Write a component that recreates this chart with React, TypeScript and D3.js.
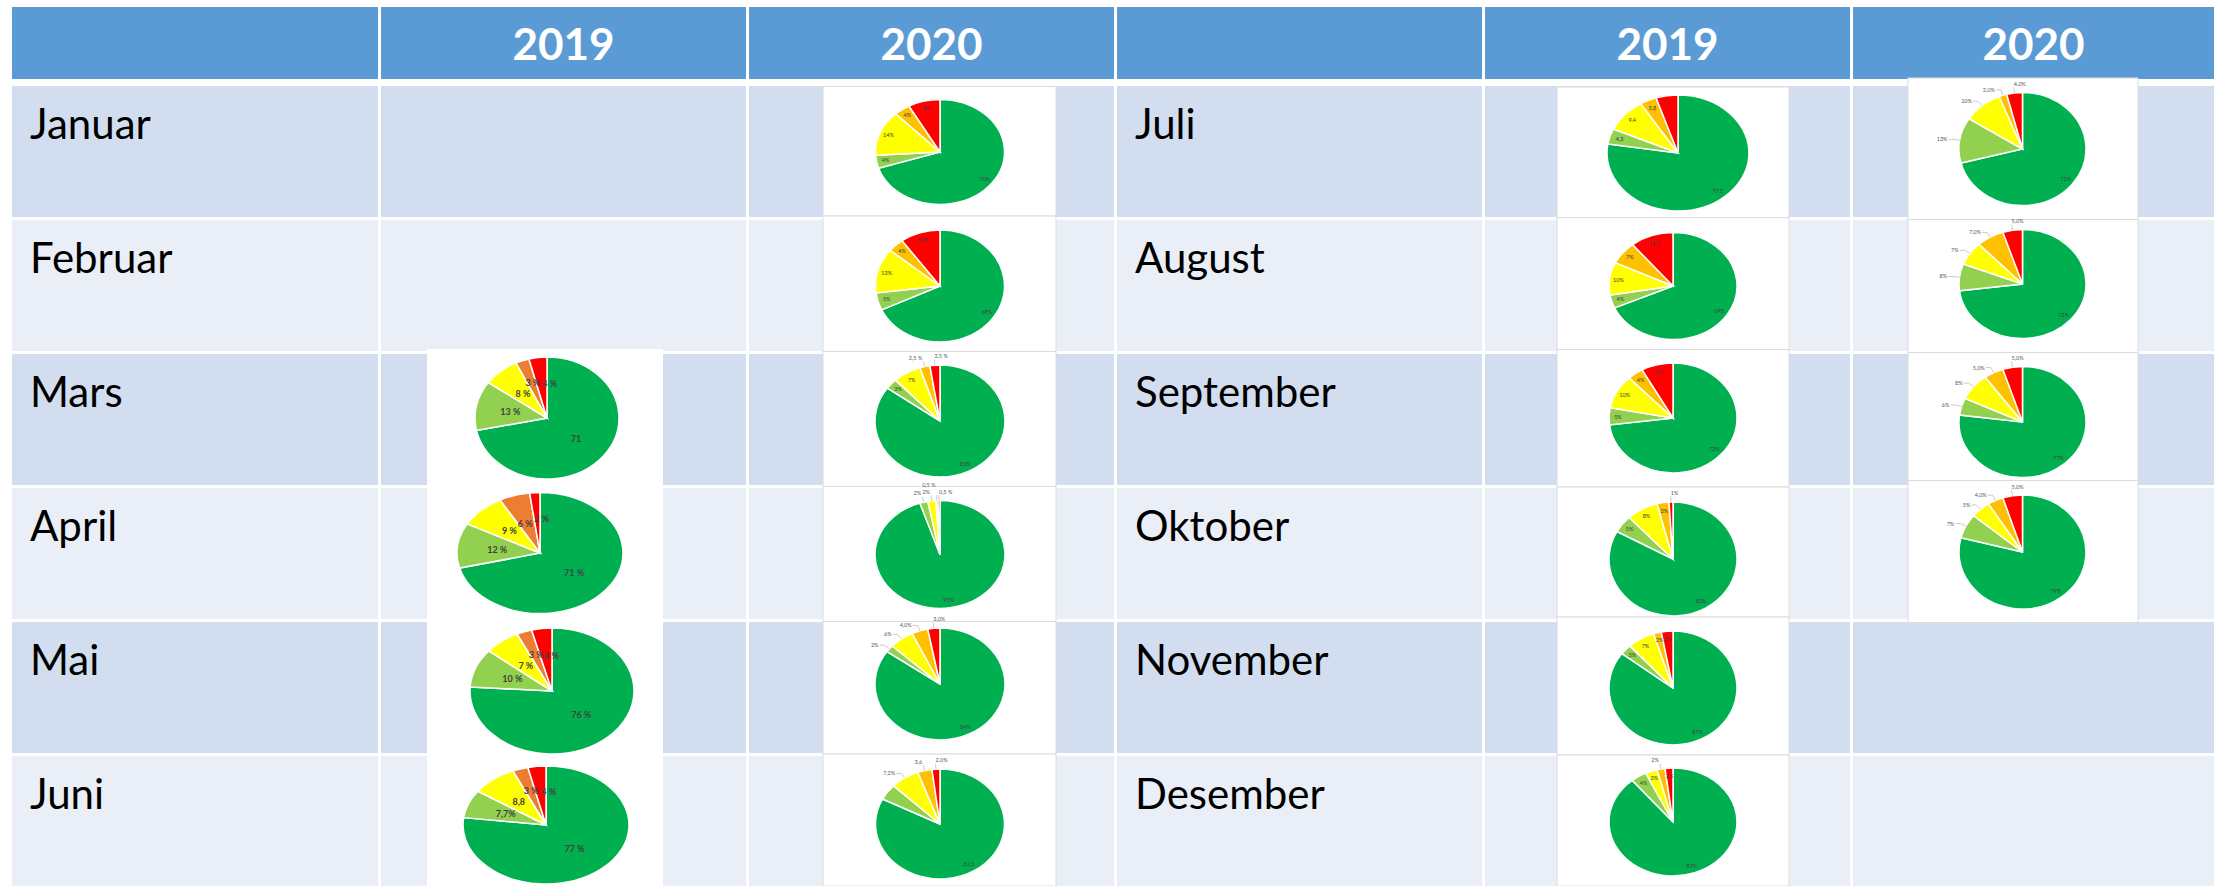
import React from "react";
import * as d3 from "d3";

const W = 2214;
const H = 886;

// ---------- DATA ----------
const months = [
  "Januar", "Februar", "Mars", "April", "Mai", "Juni",
  "Juli", "August", "September", "Oktober", "November", "Desember",
];
const years = ["2019", "2020"];
const sliceKeys = ["green", "lightGreen", "yellow", "orange", "red"];

// 2019 (null = no chart)
const green2019 = [null, null, 71, 71, 76, 77, 77.5, 69, 73, 83, 87, 89];
const lightGreen2019 = [null, null, 13, 12, 10, 7.7, 4.3, 4, 5, 5, 3, 4];
const yellow2019 = [null, null, 8, 9, 7, 8.8, 9.4, 10, 10, 8, 7, 3];
const orange2019 = [null, null, 3, 6, 3, 3, 3.8, 7, 4, 3, 2, 2];
const red2019 = [null, null, 4, 2, 4, 3.5, 5, 11, 8, 1, 3, 2];

const greenLabel2019 = ["", "", "71", "71 %", "76 %", "77 %", "77,5", "69%", "73%", "83%", "87%", "89%"];
const lightGreenLabel2019 = ["", "", "13 %", "12 %", "10 %", "7,7%", "4,3", "4%", "5%", "5%", "3%", "4%"];
const yellowLabel2019 = ["", "", "8 %", "9 %", "7 %", "8,8", "9,4", "10%", "10%", "8%", "7%", "3%"];
const orangeLabel2019 = ["", "", "3 %", "6 %", "3 %", "3 %", "3,8", "7%", "4%", "3%", "2%", "2%"];
const redLabel2019 = ["", "", "4 %", "2 %", "4 %", "4 %", "5", "11%", "8%", "1%", "3%", "2%"];

// 2020
const green2020 = [70, 68, 85, 95, 84, 82.5, 71, 73, 77, 79, null, null];
const lightGreen2020 = [4, 5, 3, 2, 2, 4.7, 13, 8, 5, 7, null, null];
const yellow2020 = [14, 13, 7, 2, 6, 7.2, 10, 7, 8, 5, null, null];
const orange2020 = [4, 4, 2.5, 0.5, 4, 3.6, 2, 7, 5, 4, null, null];
const red2020 = [8, 10, 2.5, 0.5, 3, 2, 4, 5, 5, 5, null, null];

const greenLabel2020 = ["70%", "68%", "85%", "95%", "84%", "82,5", "71%", "73%", "77%", "79%", "", ""];
const lightGreenLabel2020 = ["4%", "5%", "3%", "2%", "2%", "", "13%", "8%", "6%", "7%", "", ""];
const yellowLabel2020 = ["14%", "13%", "7%", "2%", "6%", "7,2%", "10%", "7%", "8%", "5%", "", ""];
const orangeLabel2020 = ["4%", "4%", "2,5 %", "0,5 %", "4,0%", "3,6", "2,0%", "7,0%", "5,0%", "4,0%", "", ""];
const redLabel2020 = ["8%", "10%", "2,5 %", "0,5 %", "3,0%", "2,0%", "4,0%", "5,0%", "5,0%", "5,0%", "", ""];

const valuesByYear = {
  "2019": [green2019, lightGreen2019, yellow2019, orange2019, red2019],
  "2020": [green2020, lightGreen2020, yellow2020, orange2020, red2020],
};
const labelsByYear = {
  "2019": [greenLabel2019, lightGreenLabel2019, yellowLabel2019, orangeLabel2019, redLabel2019],
  "2020": [greenLabel2020, lightGreenLabel2020, yellowLabel2020, orangeLabel2020, redLabel2020],
};

// ---------- STYLE / LAYOUT ----------
const sliceColors = ["#00B050", "#92D050", "#FFFF00", "#FFC000", "#FF0000"];
const darkOrange = "#ED7D31";
const headerFill = "#5B9BD5";
const bandDark = "#D2DEEF";
const bandLight = "#E9EEF7";
const FONT = "Lato, 'Open Sans', sans-serif";

const colEdges = [
  [12, 378], [381, 746], [749, 1114], [1117, 1482], [1485, 1850], [1853, 2214],
];
const headerTop = 7;
const headerBottom = 79;
const rowTop0 = 86;
const rowPitch = 134;
const rowHeight = 131;

const yearCol = { "2019": [1, 4], "2020": [2, 5] };

const place2019 = [
  null, null,
  { cx: 547, cy: 418, rx: 72, ry: 61 },
  { cx: 540, cy: 553, rx: 83, ry: 60.5 },
  { cx: 552, cy: 691, rx: 82, ry: 63 },
  { cx: 546, cy: 825, rx: 83, ry: 59 },
  { cx: 1678, cy: 153, rx: 71, ry: 58 },
  { cx: 1673, cy: 286, rx: 64, ry: 53.5 },
  { cx: 1673, cy: 418, rx: 64, ry: 55 },
  { cx: 1673, cy: 559, rx: 64, ry: 57 },
  { cx: 1673, cy: 688, rx: 64, ry: 57 },
  { cx: 1673, cy: 822, rx: 64, ry: 54 },
];
const place2020 = [
  { cx: 940, cy: 152, rx: 64.5, ry: 52.5 },
  { cx: 940, cy: 286, rx: 64.5, ry: 56 },
  { cx: 940, cy: 421, rx: 65, ry: 56 },
  { cx: 940, cy: 554.5, rx: 65, ry: 54 },
  { cx: 940, cy: 684, rx: 65, ry: 56 },
  { cx: 940, cy: 824, rx: 64.5, ry: 55 },
  { cx: 2022.5, cy: 149, rx: 63.5, ry: 56.5 },
  { cx: 2022.5, cy: 284, rx: 63.5, ry: 54.5 },
  { cx: 2022.5, cy: 422, rx: 63.5, ry: 55.5 },
  { cx: 2022.5, cy: 552, rx: 63.5, ry: 57 },
  null, null,
];
const placeByYear = { "2019": place2019, "2020": place2020 };

const outside2019 = [[], [], [], [], [], [], [], [], [], [4], [], [3]];
const outside2020 = [[], [], [3, 4], [1, 2, 3, 4], [1, 2, 3, 4], [2, 3, 4], [1, 2, 3, 4], [1, 2, 3, 4], [1, 2, 3, 4], [1, 2, 3, 4], [], []];
const outsideByYear = { "2019": outside2019, "2020": outside2020 };

const boxes = [
  { x: 427, w: 236, edges: [349, 886], stroke: false },
  { x: 823, w: 233, edges: [86.5, 216, 351.5, 486.5, 621.5, 754, 886], stroke: true },
  { x: 1557, w: 232, edges: [87, 217.5, 349.5, 487, 617, 755, 886], stroke: true },
  { x: 1908, w: 230, edges: [78, 219.5, 352.5, 480.5, 622.5], stroke: true },
];

const pieGen = d3.pie<number>().sort(null).value((d) => d);
const arcGen = d3.arc<d3.PieArcDatum<number>>().innerRadius(0).outerRadius(1);

type Lab = {
  i: number; text: string; x: number; y: number; anchor: string; baseline: string;
  line?: string; bold: boolean;
};

function boxOf(l: Lab, fs: number) {
  const w = l.text.length * fs * 0.52;
  const x0 = l.anchor === "middle" ? l.x - w / 2 : l.anchor === "end" ? l.x - w : l.x;
  const y0 = l.baseline === "central" ? l.y - fs / 2 : l.y - fs * 0.8;
  return { x0, x1: x0 + w, y0, y1: y0 + fs };
}

function Pie({ year, m }: { year: string; m: number }) {
  const p = placeByYear[year][m];
  if (!p) return null;
  const vals = valuesByYear[year].map((s) => s[m] as number);
  const labs = labelsByYear[year].map((s) => s[m]);
  const big = year === "2019" && m < 6;
  const colors = sliceColors.map((c, i) => (big && i === 3 ? darkOrange : c));
  const arcs = pieGen(vals);
  const out = outsideByYear[year][m];
  const labelR = big ? 0.52 : 0.86;
  const fs = big ? 9 : 5.5;

  const placed: Lab[] = [];
  arcs.forEach((a, i) => {
    const t = labs[i];
    if (!t) return;
    const mid = (a.startAngle + a.endAngle) / 2;
    const ux = Math.sin(mid);
    const uy = -Math.cos(mid);
    let lab: Lab;
    if (out.includes(i)) {
      const x0 = p.cx + ux * p.rx;
      const y0 = p.cy + uy * p.ry;
      const x1 = p.cx + ux * p.rx * 1.1;
      const y1 = p.cy + uy * p.ry * 1.1;
      const top = Math.abs(ux) < 0.3;
      if (top) {
        const anchor = i === 4 ? "start" : "end";
        lab = {
          i, text: t, x: x1 + (i === 4 ? 0 : -1), y: y1 - 1.5, anchor, baseline: "auto",
          line: `${x0},${y0} ${x1},${y1}`, bold: false,
        };
      } else {
        const x2 = x1 + (ux < 0 ? -5 : 5);
        lab = {
          i, text: t, x: x2 + (ux < 0 ? -1 : 1), y: y1, anchor: ux < 0 ? "end" : "start",
          baseline: "central", line: `${x0},${y0} ${x1},${y1} ${x2},${y1}`, bold: false,
        };
      }
    } else {
      let x = p.cx + ux * p.rx * labelR;
      let y = p.cy + uy * p.ry * labelR;
      let anchor = "middle";
      if (big && i === 3) { anchor = "end"; x += 6; }
      if (big && i === 4) { anchor = "start"; x = Math.max(x - 3, p.cx - 8); y -= 3; }
      lab = { i, text: t, x, y, anchor, baseline: "central", bold: big };
    }
    // simple collision avoidance: lift label until it clears the ones already placed
    for (let k = 0; k < 6; k++) {
      const b = boxOf(lab, fs);
      const hit = placed.some((q) => {
        const c = boxOf(q, fs);
        return b.x0 < c.x1 && b.x1 > c.x0 && b.y0 < c.y1 && b.y1 > c.y0;
      });
      if (!hit) break;
      if (lab.anchor === "start" && big) lab.x += 3;
      else lab.y -= fs * 0.6;
    }
    placed.push(lab);
  });

  return (
    <g>
      <g transform={`translate(${p.cx},${p.cy}) scale(${p.rx},${p.ry})`}>
        {arcs.map((a, i) => (
          <path
            key={sliceKeys[i]}
            d={arcGen(a) || ""}
            fill={colors[i]}
            stroke="#ffffff"
            strokeWidth={1.5}
            vectorEffect="non-scaling-stroke"
          />
        ))}
      </g>
      {placed.map((l) => (
        <g key={"l" + l.i}>
          {l.line && (
            <polyline points={l.line} fill="none" stroke="#a6a6a6" strokeWidth={0.6} />
          )}
          <text
            x={l.x}
            y={l.y}
            textAnchor={l.anchor}
            dominantBaseline={l.baseline}
            fontSize={fs}
            fontWeight={l.bold ? 700 : 400}
            fontFamily={FONT}
            fill={l.line ? "#595959" : "#404040"}
          >
            {l.text}
          </text>
        </g>
      ))}
    </g>
  );
}

export default function App() {
  const rows = d3.range(6);
  return (
    <svg
      width={W}
      height={H}
      style={{ position: "absolute", left: 0, top: 0, display: "block", background: "#ffffff" }}
    >
      {colEdges.map(([x0, x1], c) => (
        <rect key={"h" + c} x={x0} y={headerTop} width={x1 - x0} height={headerBottom - headerTop} fill={headerFill} />
      ))}
      {years.map((y) =>
        yearCol[y].map((c) => (
          <text
            key={"ht" + y + c}
            x={(colEdges[c][0] + colEdges[c][1]) / 2}
            y={60}
            textAnchor="middle"
            fontFamily={FONT}
            fontWeight={700}
            fontSize={44}
            fill="#ffffff"
          >
            {y}
          </text>
        ))
      )}
      {rows.map((r) =>
        colEdges.map(([x0, x1], c) => (
          <rect
            key={"c" + r + "-" + c}
            x={x0}
            y={rowTop0 + r * rowPitch}
            width={x1 - x0}
            height={r === 5 ? H - (rowTop0 + r * rowPitch) : rowHeight}
            fill={r % 2 === 0 ? bandDark : bandLight}
          />
        ))
      )}
      {months.map((m, i) => {
        const r = i % 6;
        const c = i < 6 ? 0 : 3;
        return (
          <text
            key={m}
            x={colEdges[c][0] + 18}
            y={rowTop0 + r * rowPitch + 53}
            fontFamily={FONT}
            fontSize={42}
            fill="#000000"
          >
            {m}
          </text>
        );
      })}
      {boxes.map((b, bi) =>
        b.edges.slice(0, -1).map((e, k) => (
          <rect
            key={"b" + bi + "-" + k}
            x={b.x}
            y={e}
            width={b.w}
            height={b.edges[k + 1] - e}
            fill="#ffffff"
            stroke={b.stroke ? "#dcdcdc" : "none"}
            strokeWidth={1}
          />
        ))
      )}
      {years.map((y) => months.map((m, i) => <Pie key={y + m} year={y} m={i} />))}
    </svg>
  );
}
